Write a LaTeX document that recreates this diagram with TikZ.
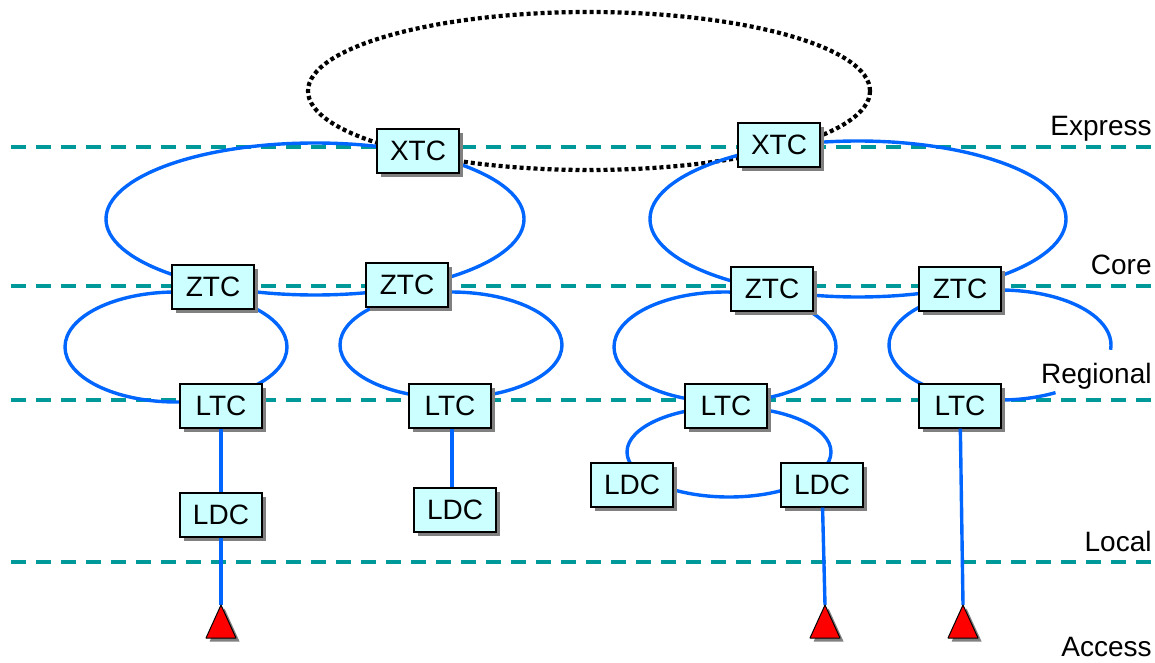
\documentclass[tikz,border=0pt]{standalone}
\usepackage{fontspec}
\setmainfont{Liberation Sans}
\usetikzlibrary{shadows}
\definecolor{tcfill}{HTML}{CCFFFF}
\definecolor{levelteal}{HTML}{009999}
\definecolor{ringblue}{HTML}{0066FF}

\begin{document}
\begin{tikzpicture}[x=0.5pt, y=-0.5pt,
		tc/.style={draw=black, line width=0.6pt, fill=tcfill, minimum width=41pt, minimum height=22pt, inner sep=0pt,
			font=\fontsize{14}{16}\selectfont,
			drop shadow={shadow xshift=1.8pt, shadow yshift=-1.8pt, fill=gray, opacity=1}},
		level/.style={levelteal, line width=2.4pt, dash pattern=on 7.5pt off 5pt},
		ring/.style={ringblue, line width=1.7pt},
		express/.style={black, line width=2.1pt, dash pattern=on 2pt off 1.5pt},
		layer/.style={anchor=east, inner sep=0pt, font=\fontsize{14}{16}\selectfont},
		access/.style={fill=red, draw=black, line width=0.5pt, line join=round,
			drop shadow={shadow xshift=1.8pt, shadow yshift=-1.8pt, fill=gray, opacity=1}}]
				\useasboundingbox (0,0) rectangle (1155,663);

				\foreach \y in {147,286,400,562}
					\draw[level] (11,\y) -- (1155,\y);

				\draw[express] (589,91) ellipse [x radius=281, y radius=79];

				\draw[ring] (315,219) ellipse [x radius=209, y radius=76];
				\draw[ring] (858,219) ellipse [x radius=208, y radius=78];
				\draw[ring] (176,347) ellipse [x radius=111, y radius=55];
				\draw[ring] (451,345) ellipse [x radius=111, y radius=53];
				\draw[ring] (725,347) ellipse [x radius=111, y radius=55];
				\draw[ring] (1000,345) ++(60:111 and 55) arc [start angle=60, end angle=365, x radius=111, y radius=55];
				\draw[ring] (729,452) ellipse [x radius=102, y radius=45];

				\node[tc] (xtc1) at (418,151) {XTC};
				\node[tc] (xtc2) at (779,145) {XTC};
				\node[tc] (ztc1) at (213,287) {ZTC};
				\node[tc] (ztc2) at (407,285) {ZTC};
				\node[tc] (ztc3) at (772,289) {ZTC};
				\node[tc] (ztc4) at (960,289) {ZTC};
				\node[tc] (ltc1) at (221,406) {LTC};
				\node[tc] (ltc2) at (450,406) {LTC};
				\node[tc] (ltc3) at (726,406) {LTC};
				\node[tc] (ltc4) at (960,406) {LTC};
				\node[tc] (ldc1) at (221,515) {LDC};
				\node[tc] (ldc2) at (455,510) {LDC};
				\node[tc] (ldc3) at (632,485) {LDC};
				\node[tc] (ldc4) at (822,485) {LDC};

				\coordinate (a1) at (221,605);
				\coordinate (a2) at (825,605);
				\coordinate (a3) at (963,605);

				\draw[ring] (ltc1) -- (ldc1);
				\draw[ring] (ldc1) -- (a1);
				\draw[ring] (ltc2.south -| 452,0) -- (ldc2.north -| 452,0);
				\draw[ring] (ldc4) -- (a2);
				\draw[ring] (ltc4) -- (a3);

				\foreach \a in {a1,a2,a3}
					\draw[access] (\a) -- ++(15,33) -- ++(-30,0) -- cycle;

				\node[layer] (express) at (1152,129) {Express};
				\node[layer] (core) at (1152,265) {Core};
				\node[layer] (regional) at (1152,376) {Regional};
				\node[layer] (local) at (1152,541) {Local};
				\node[layer] (accessname) at (1152,647) {Access};

			\end{tikzpicture}
\end{document}
